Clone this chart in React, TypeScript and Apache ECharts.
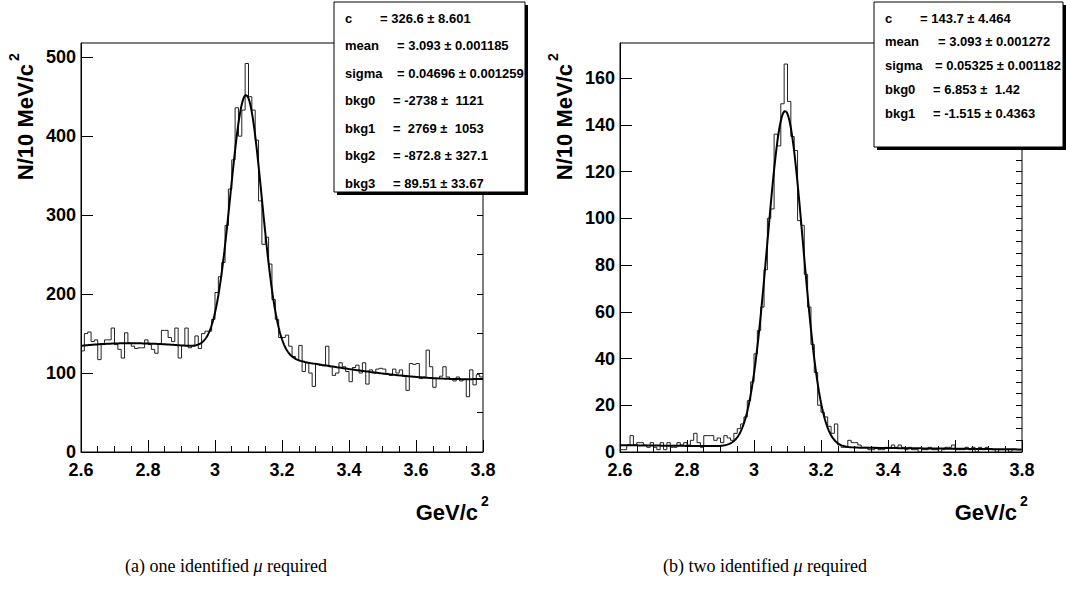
import React, { useEffect, useRef } from "react";
import * as echarts from "echarts";

const X_MIN = 2.6;
const X_MAX = 3.8;
const BIN_W = 0.01;

// Panel (a): one identified mu required — counts per 10 MeV bin, 2.60 .. 3.80
const histA = [
  128, 150, 152, 140, 142, 117, 136, 142, 142, 157,
  136, 130, 119, 151, 138, 134, 131, 132, 132, 142,
  136, 130, 125, 136, 154, 154, 145, 140, 157, 119,
  135, 157, 132, 134, 147, 131, 150, 153, 153, 168,
  202, 222, 240, 287, 333, 370, 436, 400, 433, 492,
  450, 433, 395, 318, 263, 272, 238, 193, 168, 145,
  145, 148, 134, 121, 117, 135, 102, 113, 100, 83,
  111, 110, 109, 134, 108, 97, 100, 113, 108, 102,
  89, 107, 110, 100, 113, 86, 104, 100, 105, 106,
  105, 99, 97, 105, 100, 104, 96, 78, 112, 111,
  112, 93, 95, 129, 108, 82, 93, 96, 108, 95,
  92, 90, 95, 90, 92, 70, 104, 85, 98, 95,
];

// Panel (b): two identified mu required
const histB = [
  1, 1, 3, 7, 3, 4, 4, 3, 2, 4,
  2, 1, 4, 1, 4, 2, 2, 4, 3, 4,
  3, 5, 8, 4, 2, 7, 7, 7, 5, 6,
  4, 7, 6, 5, 8, 10, 12, 15, 22, 30,
  42, 52, 62, 78, 100, 104, 136, 131, 149, 166,
  150, 135, 129, 99, 97, 76, 62, 46, 34, 20,
  17, 15, 11, 8, 12, 3, 2, 2, 5, 4,
  4, 3, 2, 2, 1, 1, 2, 1, 1, 2,
  2, 3, 2, 3, 2, 1, 2, 1, 1, 0,
  1, 1, 2, 1, 1, 0, 1, 2, 2, 3,
  1, 1, 1, 2, 1, 2, 0, 2, 1, 2,
  1, 1, 0, 1, 1, 1, 0, 1, 1, 1,
];

// Fit parameters (gaussian + polynomial background) shown in the stat boxes
const fitNamesA = ["c", "mean", "sigma", "bkg0", "bkg1", "bkg2", "bkg3"];
const fitValuesA = [326.6, 3.093, 0.04696, -2738, 2769, -872.8, 89.51];
const fitTextsA = [
  "= 326.6 \u00b1 8.601",
  "= 3.093 \u00b1 0.001185",
  "= 0.04696 \u00b1 0.001259",
  "= -2738 \u00b1  1121",
  "=  2769 \u00b1  1053",
  "= -872.8 \u00b1 327.1",
  "= 89.51 \u00b1 33.67",
];
const fitNamesB = ["c", "mean", "sigma", "bkg0", "bkg1"];
const fitValuesB = [143.7, 3.093, 0.05325, 6.853, -1.515];
const fitTextsB = [
  "= 143.7 \u00b1 4.464",
  "= 3.093 \u00b1 0.001272",
  "= 0.05325 \u00b1 0.001182",
  "= 6.853 \u00b1  1.42",
  "= -1.515 \u00b1 0.4363",
];

const captionA = "(a) one identified ";
const captionB = "(b) two identified ";
const muText = "\u03bc";
const captionEnd = " required";
const yTitle = "N/10 MeV/c";
const xTitle = "GeV/c";
const supText = "2";

function stepData(hist: number[]) {
  const d: number[][] = [];
  hist.forEach((v, i) => {
    const lo = +(X_MIN + i * BIN_W).toFixed(3);
    const hi = +(X_MIN + (i + 1) * BIN_W).toFixed(3);
    d.push([lo, v], [hi, v]);
  });
  return d;
}

function fitCurve(p: number[]) {
  const [c, m, s, ...bkg] = p;
  const d: number[][] = [];
  for (let k = 0; k <= 600; k++) {
    const x = X_MIN + k * 0.002;
    let b = 0;
    bkg.forEach((coef, j) => {
      b += coef * Math.pow(x, j);
    });
    d.push([x, c * Math.exp(-0.5 * ((x - m) / s) ** 2) + b]);
  }
  return d;
}

const FONT = "Liberation Sans, Arial, Helvetica, sans-serif";
const SERIF = "Liberation Serif, Times New Roman, serif";

function statBox(x: number, y: number, w: number, h: number, names: string[], texts: string[], valX: number[], rowH: number) {
  const els: any[] = [
    { type: "rect", z: 100, shape: { x: x + 3, y: y + 3, width: w, height: h }, style: { fill: "#000" } },
    { type: "rect", z: 101, shape: { x, y, width: w, height: h }, style: { fill: "#fff", stroke: "#000", lineWidth: 1 } },
  ];
  names.forEach((n, i) => {
    const cy = y + 16 + i * rowH;
    els.push({
      type: "text", z: 102, x: x + 11, y: cy,
      style: { text: n, font: `bold 13px ${FONT}`, fill: "#000", verticalAlign: "middle", align: "left" },
    });
    els.push({
      type: "text", z: 102, x: x + valX[i], y: cy,
      style: { text: texts[i], font: `bold 13px ${FONT}`, fill: "#000", verticalAlign: "middle", align: "left" },
    });
  });
  return els;
}

function titleWithSup(x: number, y: number, text: string, rotation: number) {
  return {
    type: "group", x, y, rotation, z: 50,
    children: [
      { type: "text", x: 0, y: 0, style: { text, font: `bold 22px ${FONT}`, fill: "#000", align: "right", verticalAlign: "middle" } },
      { type: "text", x: 3, y: -11, style: { text: supText, font: `bold 14px ${FONT}`, fill: "#000", align: "left", verticalAlign: "middle" } },
    ],
  };
}

const richCap = {
  n: { fontSize: 18, fontFamily: SERIF, color: "#000" },
  i: { fontSize: 18, fontStyle: "italic", fontFamily: SERIF, color: "#000" },
};

function buildOption() {
  const grids = [
    { left: 81, top: 43, width: 402, height: 409 },
    { left: 620, top: 43, width: 402, height: 409 },
  ];
  const yMax = [518, 175];
  const yMajor = [100, 20];
  const yMinor = [50, 5];

  const axisBase = {
    axisLine: { show: true, lineStyle: { color: "#000", width: 1 } },
    splitLine: { show: false },
  };

  const xAxis: any[] = [];
  const yAxis: any[] = [];
  grids.forEach((_, g) => {
    xAxis.push({
      ...axisBase,
      type: "value", gridIndex: g, min: X_MIN, max: X_MAX, interval: 0.2,
      axisTick: { show: true, inside: true, length: 12, lineStyle: { color: "#000" } },
      minorTick: { show: true, splitNumber: 4, length: 6, lineStyle: { color: "#000" } },
      axisLabel: {
        show: true, margin: 9, color: "#000", fontSize: 18, fontWeight: "bold", fontFamily: FONT,
        formatter: (v: number) => String(Math.round(v * 10) / 10),
      },
    });
    yAxis.push({
      ...axisBase,
      type: "value", gridIndex: g, min: 0, max: yMax[g], interval: yMajor[g],
      axisTick: { show: true, inside: true, length: 12, lineStyle: { color: "#000" } },
      axisLabel: {
        show: true, showMaxLabel: false, margin: 5, color: "#000", fontSize: 18, fontWeight: "bold", fontFamily: FONT,
      },
    });
  });
  grids.forEach((_, g) => {
    yAxis.push({
      type: "value", gridIndex: g, min: 0, max: yMax[g], interval: yMinor[g],
      axisLine: { show: false },
      splitLine: { show: false },
      axisTick: { show: true, inside: true, length: 6, lineStyle: { color: "#000" } },
      axisLabel: { show: false },
    });
  });

  const histStyle = { color: "#222", width: 1 };
  const fitStyle = { color: "#000", width: 2 };
  const series: any[] = [
    { type: "line", xAxisIndex: 0, yAxisIndex: 0, data: stepData(histA), showSymbol: false, lineStyle: histStyle, itemStyle: { color: "#222" } },
    { type: "line", xAxisIndex: 0, yAxisIndex: 0, data: fitCurve(fitValuesA), showSymbol: false, lineStyle: fitStyle, itemStyle: { color: "#000" } },
    { type: "line", xAxisIndex: 1, yAxisIndex: 1, data: stepData(histB), showSymbol: false, lineStyle: histStyle, itemStyle: { color: "#222" } },
    { type: "line", xAxisIndex: 1, yAxisIndex: 1, data: fitCurve(fitValuesB), showSymbol: false, lineStyle: fitStyle, itemStyle: { color: "#000" } },
  ];

  const graphics: any[] = [
    ...statBox(334, 2, 191, 190, fitNamesA, fitTextsA, [46, 63, 63, 59, 59, 59, 59], 27.5),
    ...statBox(874, 2, 189, 145, fitNamesB, fitTextsB, [46, 64, 61, 59, 59], 23.75),
    titleWithSup(25, 64, yTitle, Math.PI / 2),
    titleWithSup(564, 64, yTitle, Math.PI / 2),
    titleWithSup(478, 512, xTitle, 0),
    titleWithSup(1017, 512, xTitle, 0),
    { type: "text", x: 226, y: 566, style: { text: `{n|${captionA}}{i|${muText}}{n|${captionEnd}}`, rich: richCap, align: "center", verticalAlign: "middle" } },
    { type: "text", x: 765, y: 566, style: { text: `{n|${captionB}}{i|${muText}}{n|${captionEnd}}`, rich: richCap, align: "center", verticalAlign: "middle" } },
  ];

  return {
    animation: false,
    backgroundColor: "#fff",
    grid: grids.map((g) => ({ ...g, show: true, borderColor: "#000", borderWidth: 1, backgroundColor: "transparent" })),
    xAxis,
    yAxis,
    series,
    graphic: { elements: graphics },
  };
}

export default function App() {
  const ref = useRef<HTMLDivElement>(null);
  useEffect(() => {
    if (!ref.current) return;
    const chart = echarts.init(ref.current, undefined, { renderer: "svg" });
    chart.setOption(buildOption() as any);
    return () => chart.dispose();
  }, []);
  return (
    <div
      ref={ref}
      style={{ position: "absolute", left: 0, top: 0, width: 1066, height: 598, background: "#fff" }}
    />
  );
}
